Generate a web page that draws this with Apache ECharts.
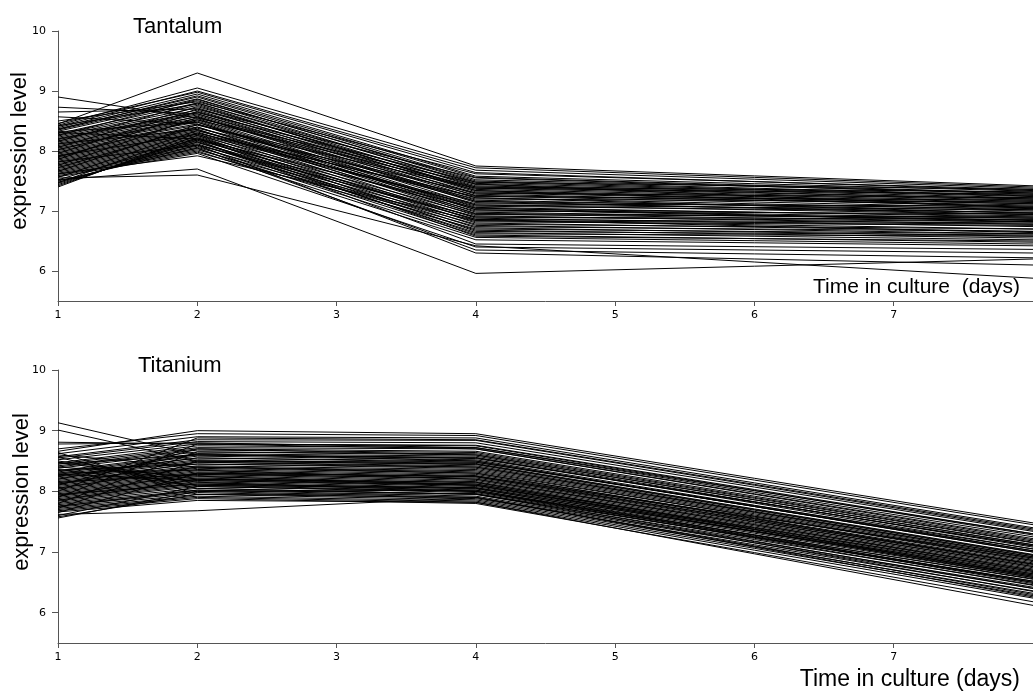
<!DOCTYPE html>
<html>
<head>
<meta charset="utf-8">
<script src="https://cdn.jsdelivr.net/npm/echarts@6/dist/echarts.min.js"></script>
<style>
  html, body { margin: 0; padding: 0; background: #fff; }
  #chart { width: 1033px; height: 693px; }
</style>
</head>
<body>
<div id="chart"></div>
<script>
// Sampling days (x positions of every profile)
const days = [1, 2, 4, 8];
const xTicks = [1, 2, 3, 4, 5, 6, 7, 8];
const yTicks = [6, 7, 8, 9, 10];

// Tantalum: expression level per probe on each sampling day
const tantalumDay1 = [8.90, 8.73, 8.65, 8.57, 8.50, 8.45, 8.43, 8.41, 8.39, 8.37,
  8.35, 8.33, 8.31, 8.29, 8.27, 8.25, 8.23, 8.21, 8.19, 8.17,
  8.15, 8.13, 8.11, 8.09, 8.07, 8.05, 8.03, 8.01, 7.99, 7.97,
  7.95, 7.93, 7.91, 7.89, 7.87, 7.85, 7.83, 7.81, 7.79, 7.77,
  7.75, 7.73, 7.71, 7.69, 7.67, 7.65, 7.63, 7.61, 7.59, 7.57,
  7.55, 7.52, 7.50, 7.48, 7.46, 7.44, 7.42, 7.40, 8.46, 8.36,
  8.26, 8.16, 8.06, 7.96, 7.86, 7.76, 7.66, 7.56, 8.32, 8.12,
  7.92, 7.82, 7.62, 7.47, 8.42, 8.02, 7.72, 7.52, 8.20, 7.90];
const tantalumDay2 = [8.55, 8.62, 8.70, 8.45, 8.82, 9.30, 9.05, 9.00, 8.95, 8.90,
  8.87, 8.84, 8.20, 8.80, 8.76, 8.72, 8.68, 8.65, 8.62, 8.60,
  8.57, 8.54, 8.52, 8.50, 8.48, 8.45, 8.43, 8.40, 8.38, 8.36,
  8.34, 8.32, 8.30, 8.28, 8.26, 8.24, 8.22, 8.20, 8.18, 8.16,
  8.14, 8.12, 8.10, 8.08, 8.06, 8.04, 8.02, 8.00, 7.98, 7.96,
  7.60, 7.70, 8.05, 8.10, 8.15, 8.18, 8.22, 8.26, 8.98, 8.92,
  8.86, 8.80, 8.74, 8.70, 8.66, 8.56, 8.44, 8.34, 8.48, 8.36,
  8.28, 8.10, 7.92, 8.30, 8.78, 8.58, 8.40, 8.20, 8.64, 8.52];
const tantalumDay4 = [7.45, 7.30, 7.55, 7.22, 7.62, 7.75, 7.72, 7.68, 7.58, 7.52,
  7.48, 7.44, 7.05, 7.40, 7.36, 7.32, 7.28, 7.25, 7.22, 7.18,
  7.14, 7.10, 7.06, 7.02, 6.98, 6.95, 7.38, 6.92, 7.30, 6.88,
  7.20, 6.84, 7.12, 6.80, 7.00, 6.76, 6.94, 6.72, 6.90, 6.68,
  6.86, 6.64, 6.82, 6.60, 6.78, 6.56, 6.74, 6.52, 6.70, 6.40,
  6.42, 5.96, 6.35, 6.30, 6.62, 6.45, 6.58, 6.66, 7.64, 7.56,
  7.50, 7.46, 7.42, 7.38, 7.34, 7.26, 7.16, 7.08, 7.04, 6.96,
  7.10, 6.90, 6.84, 7.24, 7.34, 7.16, 7.02, 6.86, 7.48, 7.40];
const tantalumDay8 = [7.05, 7.12, 7.28, 6.96, 7.36, 7.42, 7.40, 7.38, 7.33, 7.30,
  7.25, 7.22, 6.82, 7.20, 7.16, 7.12, 7.08, 7.05, 7.02, 7.00,
  6.97, 6.94, 6.90, 6.88, 6.85, 6.82, 7.28, 6.78, 7.22, 6.74,
  7.15, 6.70, 7.08, 6.66, 6.95, 6.62, 6.90, 6.58, 6.86, 6.55,
  6.80, 6.52, 6.76, 6.48, 6.70, 6.45, 6.66, 6.42, 6.62, 6.30,
  5.88, 6.20, 6.22, 6.10, 6.58, 6.36, 6.50, 6.60, 7.34, 7.30,
  7.26, 7.24, 7.20, 7.18, 7.14, 7.10, 7.04, 6.98, 6.92, 6.88,
  7.02, 6.82, 6.78, 7.18, 7.06, 6.94, 6.84, 6.64, 7.36, 7.32];

// Titanium: expression level per probe on each sampling day
const titaniumDay1 = [9.13, 9.01, 8.81, 8.78, 8.70, 8.66, 8.62, 8.60, 8.57, 8.55,
  8.52, 8.50, 8.47, 8.45, 8.42, 8.40, 8.38, 8.36, 8.34, 8.32,
  8.30, 8.28, 8.26, 8.24, 8.22, 8.20, 8.18, 8.16, 8.14, 8.12,
  8.10, 8.08, 8.06, 8.04, 8.02, 8.00, 7.98, 7.96, 7.94, 7.92,
  7.90, 7.88, 7.86, 7.84, 7.82, 7.80, 7.78, 7.76, 7.74, 7.72,
  7.70, 7.68, 7.66, 7.62, 7.58, 7.56, 7.65, 7.72, 7.80, 7.90,
  8.00, 8.10, 8.20, 8.30, 8.40, 8.48, 8.56, 8.64, 8.35, 8.15,
  7.95, 7.75, 8.25, 8.05, 7.85, 8.45, 8.12, 7.92, 8.28, 7.60];
const titaniumDay2 = [8.60, 8.50, 8.78, 8.80, 8.95, 9.00, 8.90, 8.40, 8.85, 8.82,
  8.78, 8.20, 8.75, 8.72, 8.70, 8.68, 8.65, 8.10, 8.62, 8.60,
  8.58, 8.55, 8.52, 8.50, 8.48, 8.45, 8.42, 8.40, 8.38, 8.36,
  8.34, 8.32, 8.30, 8.28, 8.26, 8.24, 8.22, 8.20, 8.18, 8.16,
  8.14, 8.12, 8.10, 8.08, 8.05, 8.02, 8.00, 7.98, 7.95, 7.92,
  7.90, 7.88, 7.85, 7.68, 7.95, 8.00, 8.30, 8.50, 8.65, 8.78,
  8.88, 8.70, 8.62, 8.35, 8.25, 8.15, 8.05, 7.95, 8.45, 8.28,
  8.12, 8.02, 8.55, 8.40, 8.20, 8.60, 8.48, 8.30, 8.18, 8.08];
const titaniumDay4 = [8.55, 8.45, 8.70, 8.72, 8.92, 8.95, 8.88, 8.30, 8.84, 8.80,
  8.76, 8.15, 8.72, 8.70, 8.66, 8.64, 8.60, 8.05, 8.58, 8.56,
  8.52, 8.50, 8.46, 8.44, 8.42, 8.40, 8.36, 8.34, 8.30, 8.28,
  8.26, 8.24, 8.20, 8.18, 8.16, 8.14, 8.12, 8.10, 8.08, 8.06,
  8.04, 8.02, 8.00, 7.98, 7.95, 7.92, 7.90, 7.88, 7.86, 7.84,
  7.82, 7.80, 7.82, 7.90, 7.96, 8.02, 8.25, 8.48, 8.62, 8.75,
  8.85, 8.60, 8.50, 8.20, 8.10, 8.00, 7.95, 7.90, 8.38, 8.22,
  8.06, 7.96, 8.48, 8.32, 8.12, 8.54, 8.40, 8.24, 8.10, 8.00];
const titaniumDay8 = [7.10, 6.95, 7.20, 7.30, 7.45, 7.48, 7.40, 6.80, 7.36, 7.34,
  7.30, 6.60, 7.25, 7.22, 7.18, 7.16, 7.12, 6.50, 7.08, 7.05,
  7.02, 7.00, 6.96, 6.94, 6.92, 6.90, 6.86, 6.84, 6.82, 6.80,
  6.78, 6.76, 6.74, 6.72, 6.70, 6.68, 6.66, 6.64, 6.62, 6.60,
  6.58, 6.55, 6.52, 6.50, 6.46, 6.42, 6.40, 6.36, 6.32, 6.28,
  6.24, 6.18, 6.12, 6.30, 6.40, 6.48, 6.90, 7.05, 7.15, 7.28,
  7.38, 7.12, 7.00, 6.70, 6.58, 6.45, 6.35, 6.26, 6.88, 6.76,
  6.62, 6.52, 7.02, 6.86, 6.68, 7.10, 6.92, 6.80, 6.64, 6.56];

const tickFont = 'DejaVu Sans';
const textFont = '"Liberation Sans", Arial, Helvetica, sans-serif';

function profiles(d1, d2, d4, d8, gridIndex) {
  return d1.map((v, i) => ({
    type: 'line',
    xAxisIndex: gridIndex,
    yAxisIndex: gridIndex,
    data: [v, d2[i], d4[i], d8[i]].map((y, k) => [days[k], y]),
    symbol: 'none',
    silent: true,
    lineStyle: { color: '#000', width: 1 },
    z: 2
  }));
}

function xAxis(gridIndex) {
  return {
    type: 'value', gridIndex, min: 1, max: 8, interval: 1,
    axisLine: { onZero: false, lineStyle: { color: '#555', width: 1 } },
    axisTick: { show: true, length: 5, customValues: xTicks, lineStyle: { color: '#555' } },
    axisLabel: { color: '#000', fontFamily: tickFont, fontSize: 11, margin: 9,
      customValues: xTicks.slice(0, -1) },
    splitLine: { show: false }
  };
}

function yAxis(gridIndex) {
  return {
    type: 'value', gridIndex, min: 5.5, max: 10,
    axisLine: { show: true, lineStyle: { color: '#555', width: 1 } },
    axisTick: { show: true, length: 6, customValues: yTicks, lineStyle: { color: '#555' } },
    axisLabel: { color: '#000', fontFamily: tickFont, fontSize: 11, margin: 12, customValues: yTicks },
    splitLine: { show: false }
  };
}

function label(text, x, y, size, opts) {
  return Object.assign({
    type: 'text', x, y,
    style: { text, fontFamily: textFont, fontSize: size, fill: '#000',
      align: (opts && opts.align) || 'left', verticalAlign: 'middle' }
  }, opts && opts.rotation !== undefined ? { rotation: opts.rotation } : {});
}

const chart = echarts.init(document.getElementById('chart'), null, { renderer: 'canvas' });
chart.setOption({
  animation: false,
  backgroundColor: '#fff',
  grid: [
    { left: 58, top: 31, width: 980, height: 270 },
    { left: 58, top: 370, width: 980, height: 273 }
  ],
  xAxis: [xAxis(0), xAxis(1)],
  yAxis: [yAxis(0), yAxis(1)],
  graphic: [
    label('Tantalum', 133, 27, 22),
    label('Titanium', 138, 366, 22),
    label('expression level', 20, 151, 22, { align: 'center', rotation: Math.PI / 2 }),
    label('expression level', 22, 492, 22, { align: 'center', rotation: Math.PI / 2 }),
    label('Time in culture  (days)', 1020, 287, 21, { align: 'right' }),
    label('Time in culture (days)', 1020, 680, 23, { align: 'right' })
  ],
  series: [
    ...profiles(tantalumDay1, tantalumDay2, tantalumDay4, tantalumDay8, 0),
    ...profiles(titaniumDay1, titaniumDay2, titaniumDay4, titaniumDay8, 1)
  ]
});
</script>
</body>
</html>
